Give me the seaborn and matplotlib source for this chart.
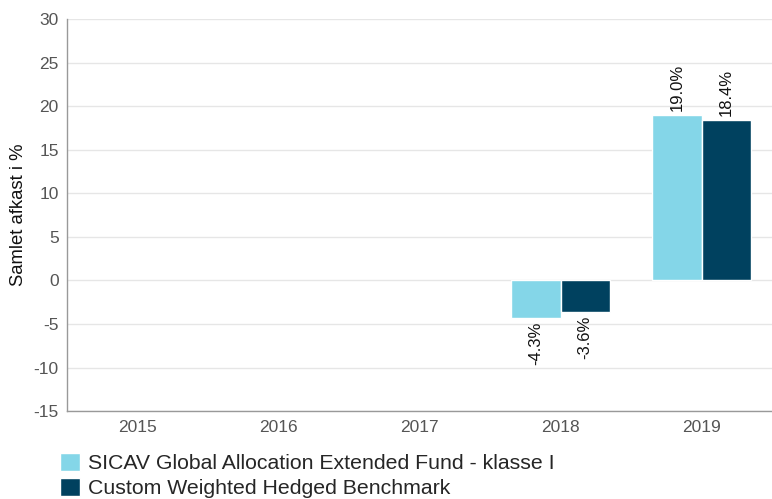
import numpy as np
import pandas as pd
import matplotlib
matplotlib.use('Agg')
import matplotlib.pyplot as plt
import seaborn as sns

# data
years = ['2015', '2016', '2017', '2018', '2019']
fund_name = 'SICAV Global Allocation Extended Fund - klasse I'
bench_name = 'Custom Weighted Hedged Benchmark'
fund_values = [np.nan, np.nan, np.nan, -4.3, 19.0]
bench_values = [np.nan, np.nan, np.nan, -3.6, 18.4]
colors = ['#84d6e8', '#00415f']

df = pd.DataFrame({
    'year': years * 2,
    'series': [fund_name] * len(years) + [bench_name] * len(years),
    'value': fund_values + bench_values,
})

sns.set_theme(style='white')
plt.rcParams['font.family'] = ['Liberation Sans', 'DejaVu Sans']
plt.rcParams['axes.unicode_minus'] = False

fig = plt.figure(figsize=(7.72, 4.99), dpi=100)
ax = fig.add_axes([0.087, 0.176, 0.913, 0.786])

sns.barplot(data=df, x='year', y='value', hue='series', order=years,
            hue_order=[fund_name, bench_name], palette=colors, saturation=1,
            errorbar=None, width=0.7, edgecolor='white', linewidth=1,
            ax=ax, legend=True)

for cont in ax.containers:
    labels = ['' if np.isnan(b.get_height()) else f'{b.get_height():.1f}%' for b in cont]
    ax.bar_label(cont, labels=labels, rotation=90, padding=3, fontsize=12, color='#111111')

ax.set_ylim(-15, 30)
ax.set_yticks(range(-15, 31, 5))
ax.set_xlim(-0.5, len(years) - 0.5)
ax.yaxis.grid(True, color='#e6e6e6', linewidth=1)
ax.set_axisbelow(True)
ax.tick_params(axis='both', length=0, labelsize=12.5, labelcolor='#555555', pad=6)
ax.set_xlabel('')
ax.set_ylabel('Samlet afkast i %', fontsize=13.3, color='#111111', labelpad=5)
for s in ['top', 'right']:
    ax.spines[s].set_visible(False)
for s in ['left', 'bottom']:
    ax.spines[s].set_color('#999999')
    ax.spines[s].set_linewidth(1)

handles, lbls = ax.get_legend_handles_labels()
ax.get_legend().remove()
fig.legend(handles, lbls, loc='upper left', bbox_to_anchor=(0.078, 0.092),
           frameon=False, fontsize=15.3, handlelength=0.93, handleheight=0.93,
           handletextpad=0.4, labelspacing=0.2, borderaxespad=0, borderpad=0)

plt.savefig('out.png', dpi=100)
